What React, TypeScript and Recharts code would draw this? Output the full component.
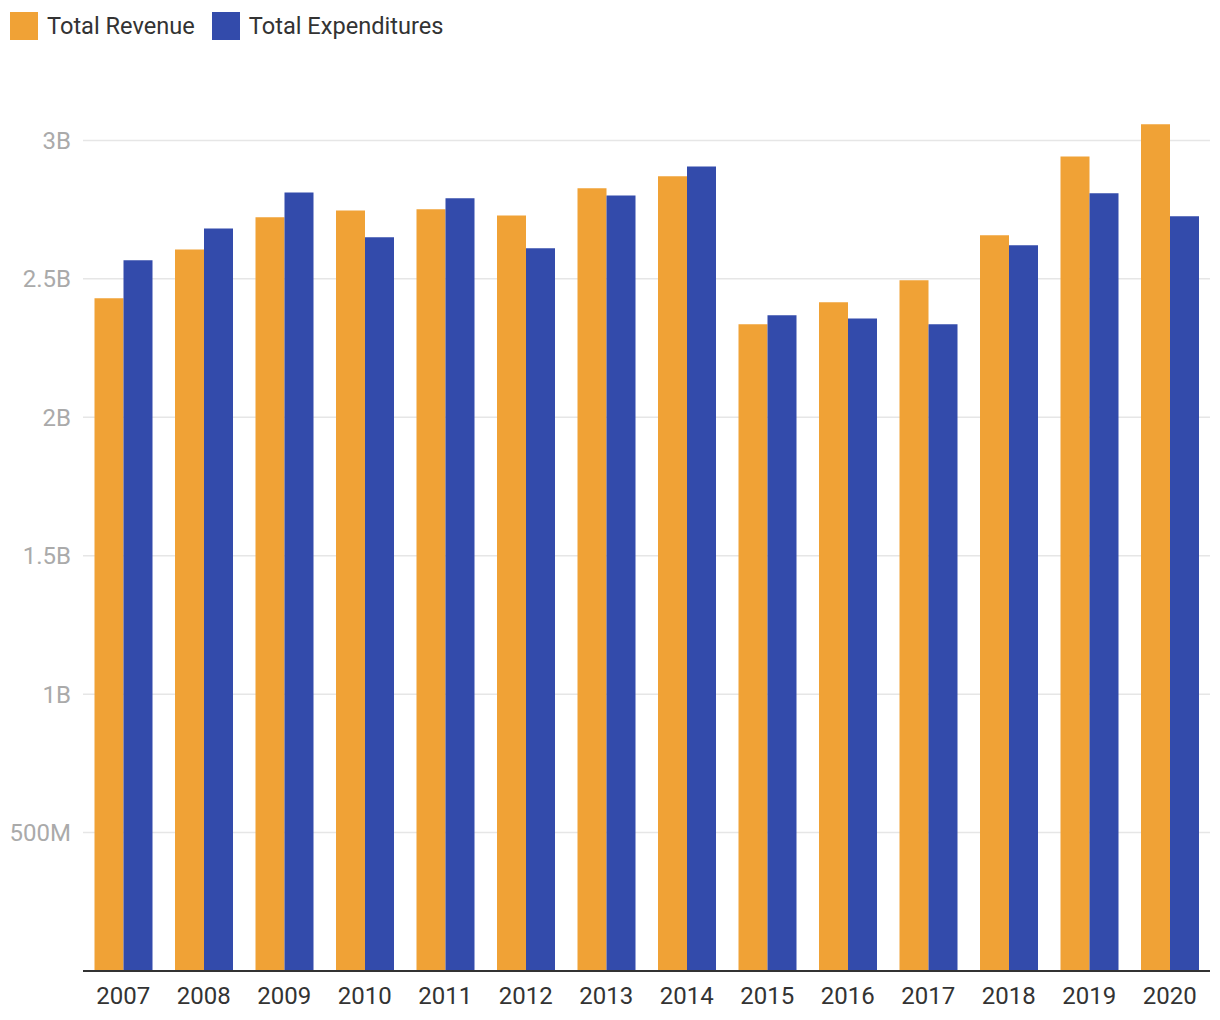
import React from 'react';
import { BarChart, Bar, XAxis, YAxis, CartesianGrid } from 'recharts';

const years = ['2007', '2008', '2009', '2010', '2011', '2012', '2013', '2014', '2015', '2016', '2017', '2018', '2019', '2020'];
const revenue = [2.43, 2.606, 2.722, 2.747, 2.751, 2.729, 2.827, 2.87, 2.336, 2.415, 2.495, 2.657, 2.942, 3.058];
const expenditures = [2.567, 2.682, 2.812, 2.65, 2.791, 2.61, 2.801, 2.906, 2.368, 2.357, 2.336, 2.621, 2.809, 2.726];
const yTicks = [500e6, 1e9, 1.5e9, 2e9, 2.5e9, 3e9];

const ORANGE = '#F0A236';
const BLUE = '#334BAB';
const FONT = 'Roboto, "Noto Sans", sans-serif';

const data = years.map((year, i) => ({
  year,
  revenue: revenue[i] * 1e9,
  expenditures: expenditures[i] * 1e9,
}));

const formatTick = (v: number) => {
  if (v >= 1e9) return `${v / 1e9}B`;
  return `${v / 1e6}M`;
};

function LegendItem({ color, label }: { color: string; label: string }) {
  return (
    <div style={{ display: 'flex', alignItems: 'center', marginRight: 17 }}>
      <div style={{ width: 28, height: 28, background: color, marginRight: 9 }} />
      <span style={{ fontSize: 23.6, color: '#333', fontFamily: FONT }}>{label}</span>
    </div>
  );
}

export default function App() {
  return (
    <div style={{ position: 'absolute', left: 0, top: 0, width: 1220, height: 1020, background: '#fff' }}>
      <div style={{ position: 'absolute', left: 10, top: 12, height: 28, display: 'flex' }}>
        <LegendItem color={ORANGE} label="Total Revenue" />
        <LegendItem color={BLUE} label="Total Expenditures" />
      </div>
      <BarChart
        width={1220}
        height={1020}
        data={data}
        margin={{ top: 85, right: 10, bottom: 9, left: 11 }}
        barCategoryGap={11.5}
        barGap={0}
      >
        <CartesianGrid vertical={false} horizontalValues={yTicks} stroke="#e6e6e6" strokeWidth={1.5} />
        <XAxis
          dataKey="year"
          height={40}
          tickLine={false}
          tickMargin={10}
          axisLine={{ stroke: '#333', strokeWidth: 2 }}
          tick={{ fill: '#333', fontSize: 24, fontFamily: FONT }}
          interval={0}
        />
        <YAxis
          width={72}
          domain={[0, 3.2e9]}
          ticks={yTicks}
          tickFormatter={formatTick}
          axisLine={false}
          tickLine={false}
          tickMargin={6}
          tick={{ fill: '#aaa', fontSize: 24, fontFamily: FONT }}
        />
        <Bar dataKey="revenue" fill={ORANGE} isAnimationActive={false} />
        <Bar dataKey="expenditures" fill={BLUE} isAnimationActive={false} />
      </BarChart>
    </div>
  );
}
